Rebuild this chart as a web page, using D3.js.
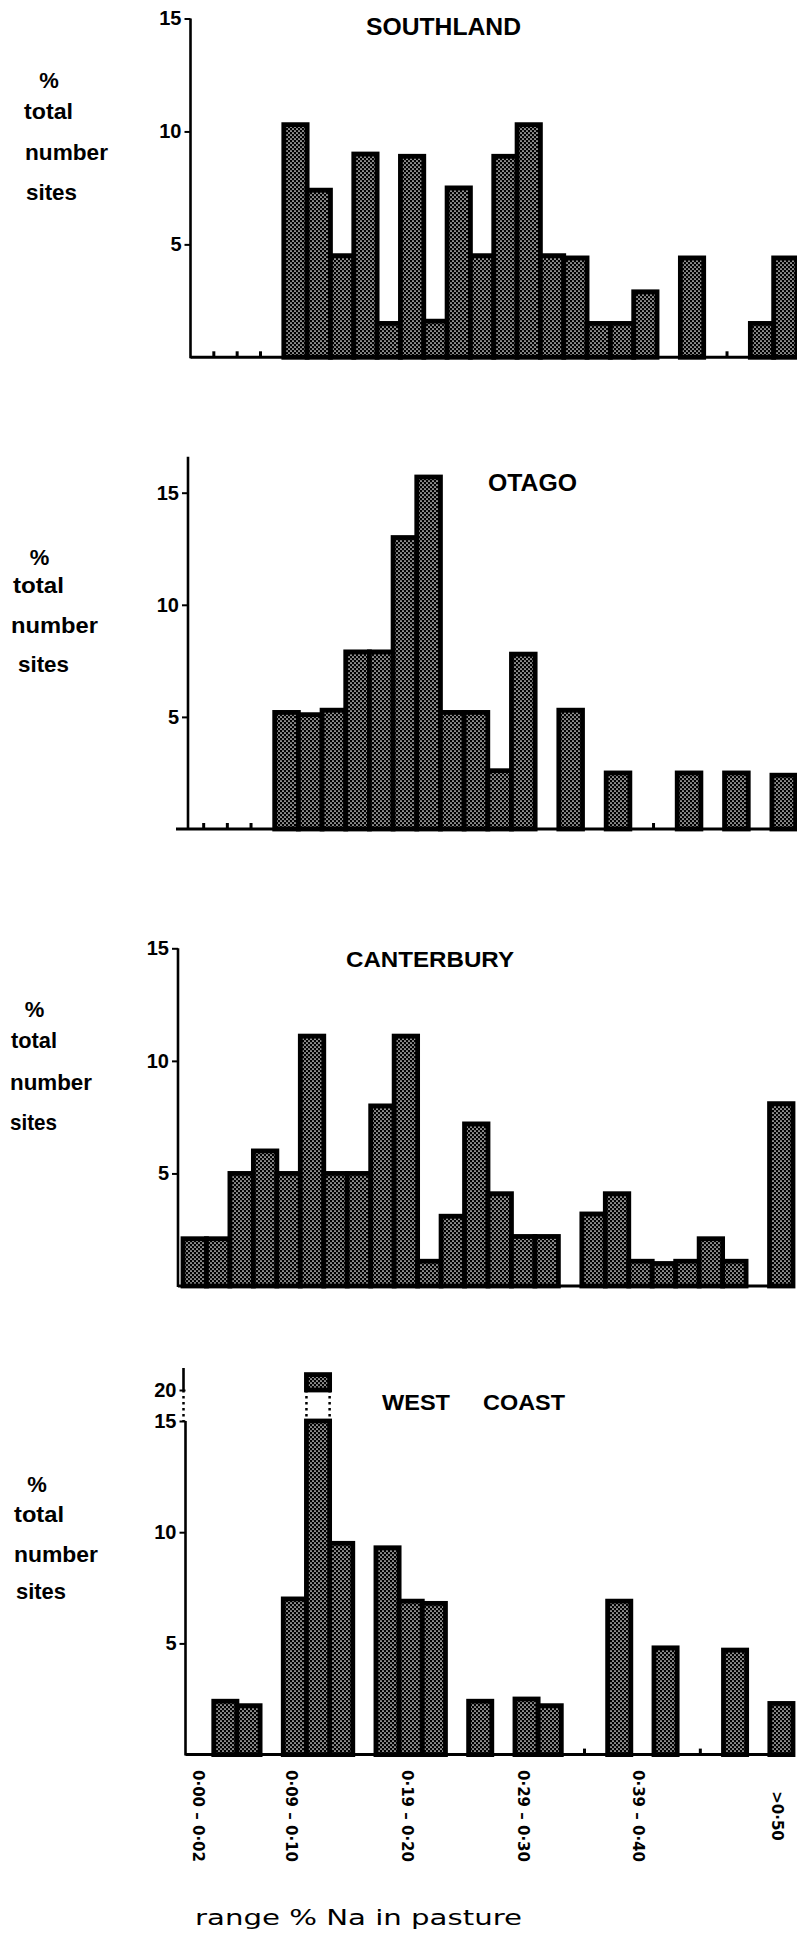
<!DOCTYPE html>
<html>
<head>
<meta charset="utf-8">
<script src="https://cdn.jsdelivr.net/npm/d3@7"></script>
<style>
  html, body { margin: 0; padding: 0; background: #fff; }
  svg { display: block; }
  .bar { fill: url(#halftone); stroke: #000; stroke-width: 4.8; stroke-linejoin: miter; }
  .dotted { stroke: #000; stroke-width: 2.5; stroke-dasharray: 2.5 3.5; fill: none; }
  .axisline { stroke: #000; stroke-width: 2.6; fill: none; }
  .baseline { stroke: #000; stroke-width: 3; fill: none; }
  .ytick text { font-family: "Liberation Sans", Arial, sans-serif; font-weight: bold; font-size: 20px; fill: #000; }
  .ytick line { stroke: #000; stroke-width: 2; }
  .ylab { font-family: "Liberation Sans", Arial, sans-serif; font-weight: bold; font-size: 22px; fill: #000; }
  .title { font-family: "Liberation Sans", Arial, sans-serif; font-weight: bold; fill: #000; }
  .xtick { font-family: "DejaVu Sans", sans-serif; font-weight: bold; font-size: 15px; fill: #000; }
  .xtitle { font-family: "DejaVu Sans", sans-serif; font-size: 22px; fill: #000; }
</style>
</head>
<body>
<svg id="chart" width="797" height="1934"></svg>
<script>
// Sodium classes, % Na in pasture
const categories = [
  "0·00 – 0·02", "0·03 – 0·04", "0·05 – 0·06", "0·07 – 0·08", "0·09 – 0·10",
  "0·11 – 0·12", "0·13 – 0·14", "0·15 – 0·16", "0·17 – 0·18", "0·19 – 0·20",
  "0·21 – 0·22", "0·23 – 0·24", "0·25 – 0·26", "0·27 – 0·28", "0·29 – 0·30",
  "0·31 – 0·32", "0·33 – 0·34", "0·35 – 0·36", "0·37 – 0·38", "0·39 – 0·40",
  "0·41 – 0·42", "0·43 – 0·44", "0·45 – 0·46", "0·47 – 0·48", "0·49 – 0·50",
  ">0·50"
];

// Classes that carry a label under the bottom panel
const tickLabels = ["0·00 – 0·02", "0·09 – 0·10", "0·19 – 0·20", "0·29 – 0·30", "0·39 – 0·40", ">0·50"];

// % of total number of sites falling in each class
const southland  = [0, 0, 0, 0, 10.3, 7.4, 4.5, 9.0, 1.5, 8.9, 1.6, 7.5, 4.5, 8.9, 10.3, 4.5, 4.4, 1.5, 1.5, 2.9, 0, 4.4, 0, 0, 1.5, 4.4];
const otago      = [0, 0, 0, 0, 5.2, 5.1, 5.3, 7.9, 7.9, 13.0, 15.7, 5.2, 5.2, 2.6, 7.8, 0, 5.3, 0, 2.5, 0, 0, 2.5, 0, 2.5, 0, 2.4];
const canterbury = [2.1, 2.1, 5.0, 6.0, 5.0, 11.1, 5.0, 5.0, 8.0, 11.1, 1.1, 3.1, 7.2, 4.1, 2.2, 2.2, 0, 3.2, 4.1, 1.1, 1.0, 1.1, 2.1, 1.1, 0, 8.1];
const westCoast  = [0, 2.4, 2.2, 0, 7.0, 20.7, 9.5, 0, 9.3, 6.9, 6.8, 0, 2.4, 0, 2.5, 2.2, 0, 0, 6.9, 0, 4.8, 0, 0, 4.7, 0, 2.3];

const yWords = ["total", "number", "sites"];

// Placement of the four stacked panels
const panels = [
  { key: "southland", values: southland,
    title: [{ t: "SOUTHLAND", x: 366, len: 155 }], titleY: 35, titleSize: 23,
    axisX: 190.5, bands: [190.5, 797], baseStart: 190.5,
    yDomain: [0, 15], yRange: [357.3, 18.5], axisTop: 18.5, ticks: [5, 10, 15],
    ylab: { pct: [49, 88], words: [[24, 119, 49], [25, 160, 83], [26, 200, 51]] } },
  { key: "otago", values: otago,
    title: [{ t: "OTAGO", x: 488, len: 89 }], titleY: 491, titleSize: 23,
    axisX: 188, bands: [180, 795.6], baseStart: 176,
    yDomain: [0, 15], yRange: [829, 492.7], axisTop: 456.7, ticks: [5, 10, 15],
    ylab: { pct: [39.5, 565], words: [[13, 593, 51], [11, 633, 87], [18, 672, 51]] } },
  { key: "canterbury", values: canterbury,
    title: [{ t: "CANTERBURY", x: 346, len: 168 }], titleY: 966.5, titleSize: 22,
    axisX: 178, bands: [183, 793], baseStart: 178,
    yDomain: [0, 15], yRange: [1286, 948.3], axisTop: 948.3, ticks: [5, 10, 15],
    ylab: { pct: [34.5, 1017], words: [[11, 1048, 46], [10, 1090, 82], [10, 1130, 47]] } },
  { key: "westCoast", values: westCoast,
    title: [{ t: "WEST", x: 382, len: 68 }, { t: "COAST", x: 483, len: 82 }], titleY: 1410, titleSize: 22,
    axisX: 185.5, bands: [190.6, 793], baseStart: 185.5,
    yDomain: [0, 15, 20, 21], yRange: [1754.6, 1421, 1390, 1368], axisTop: 1368, ticks: [5, 10, 15, 20],
    brk: [15, 20],
    ylab: { pct: [37, 1492], words: [[14, 1522, 50], [14, 1562, 84], [16, 1599, 50]] } }
];

const svg = d3.select("#chart");

// Halftone screen used to fill the bars
const pat = svg.append("defs").append("pattern")
  .attr("id", "halftone").attr("width", 4).attr("height", 4)
  .attr("patternUnits", "userSpaceOnUse");
pat.append("rect").attr("width", 4).attr("height", 4).attr("fill", "#000");
pat.append("circle").attr("cx", 1).attr("cy", 1).attr("r", 0.85).attr("fill", "#fff");
pat.append("circle").attr("cx", 3).attr("cy", 3).attr("r", 0.85).attr("fill", "#fff");

let lastX = null;

panels.forEach(p => {
  const g = svg.append("g").attr("class", "panel " + p.key);
  const x = d3.scaleBand().domain(categories).range(p.bands).paddingInner(0).paddingOuter(0);
  const y = d3.scaleLinear().domain(p.yDomain).range(p.yRange);
  const base = y(0);
  lastX = x;

  const data = categories.map((c, i) => ({ c, v: p.values[i], i }));
  const filled = data.filter(d => d.v > 0);
  const normal = filled.filter(d => !(p.brk && d.v > p.brk[1]));
  const broken = filled.filter(d => p.brk && d.v > p.brk[1]);

  // ordinary bars
  g.selectAll("rect.bar.n").data(normal).join("rect")
    .attr("class", "bar n")
    .attr("x", d => x(d.c))
    .attr("y", d => y(d.v))
    .attr("width", x.bandwidth())
    .attr("height", d => base - y(d.v));

  // bars running past the axis break: lower block, dotted gap, upper block
  broken.forEach(d => {
    const x0 = x(d.c), w = x.bandwidth();
    const yLo = y(p.brk[0]), yHi = y(p.brk[1]);
    [x0, x0 + w].forEach(xx => g.append("line").attr("class", "dotted")
      .attr("x1", xx).attr("x2", xx).attr("y1", yHi).attr("y2", yLo));
    g.append("rect").attr("class", "bar")
      .attr("x", x0).attr("y", yLo).attr("width", w).attr("height", base - yLo);
    g.append("rect").attr("class", "bar")
      .attr("x", x0).attr("y", y(d.v)).attr("width", w).attr("height", yHi - y(d.v));
  });

  // base line
  g.append("line").attr("class", "baseline")
    .attr("x1", p.baseStart).attr("x2", p.bands[1]).attr("y1", base).attr("y2", base);

  // small marks between neighbouring empty classes
  const marks = data.filter(d => d.i > 0 && d.v === 0 && p.values[d.i - 1] === 0);
  g.selectAll("line.mark").data(marks).join("line")
    .attr("class", "baseline")
    .attr("x1", d => x(d.c)).attr("x2", d => x(d.c))
    .attr("y1", base).attr("y2", base - 6)
    .attr("stroke-width", 2);

  // vertical axis
  if (p.brk) {
    const yLo = y(p.brk[0]), yHi = y(p.brk[1]);
    g.append("line").attr("class", "axisline").attr("x1", p.axisX).attr("x2", p.axisX).attr("y1", yLo).attr("y2", base + 1);
    g.append("line").attr("class", "dotted").attr("x1", p.axisX - 2).attr("x2", p.axisX - 2).attr("y1", yHi).attr("y2", yLo);
    g.append("line").attr("class", "axisline").attr("x1", p.axisX - 2).attr("x2", p.axisX - 2).attr("y1", p.axisTop).attr("y2", yHi);
  } else {
    g.append("line").attr("class", "axisline").attr("x1", p.axisX).attr("x2", p.axisX).attr("y1", p.axisTop).attr("y2", base + 1);
  }

  const ax = g.append("g").attr("class", "ytick")
    .attr("transform", `translate(${p.axisX},0)`)
    .call(d3.axisLeft(y).tickValues(p.ticks).tickSize(6).tickPadding(3).tickFormat(d3.format("d")));
  ax.select(".domain").remove();
  ax.attr("font-family", null).attr("font-size", null);

  // panel title
  const tt = g.append("text").attr("class", "title").attr("font-size", p.titleSize);
  p.title.forEach(s => tt.append("tspan").attr("x", s.x).attr("y", p.titleY)
    .attr("textLength", s.len).attr("lengthAdjust", "spacingAndGlyphs").text(s.t));

  // y label block
  g.append("text").attr("class", "ylab").attr("text-anchor", "middle")
    .attr("x", p.ylab.pct[0]).attr("y", p.ylab.pct[1]).text("%");
  g.selectAll("text.word").data(yWords).join("text")
    .attr("class", "ylab word")
    .attr("x", (d, i) => p.ylab.words[i][0])
    .attr("y", (d, i) => p.ylab.words[i][1])
    .attr("textLength", (d, i) => p.ylab.words[i][2])
    .attr("lengthAdjust", "spacingAndGlyphs")
    .text(d => d);
});

// class labels under the bottom panel, rotated to read downwards
const labelY = 1816;
svg.append("g").selectAll("text").data(tickLabels).join("text")
  .attr("class", "xtick")
  .attr("text-anchor", "middle")
  .attr("dominant-baseline", "central")
  .attr("transform", d => `translate(${lastX(d) + lastX.bandwidth() / 2 - 4},${labelY}) rotate(90)`)
  .text(d => d);

svg.append("text").attr("class", "xtitle")
  .attr("x", 195).attr("y", 1925)
  .attr("textLength", 327).attr("lengthAdjust", "spacingAndGlyphs")
  .text("range % Na in pasture");
</script>
</body>
</html>
